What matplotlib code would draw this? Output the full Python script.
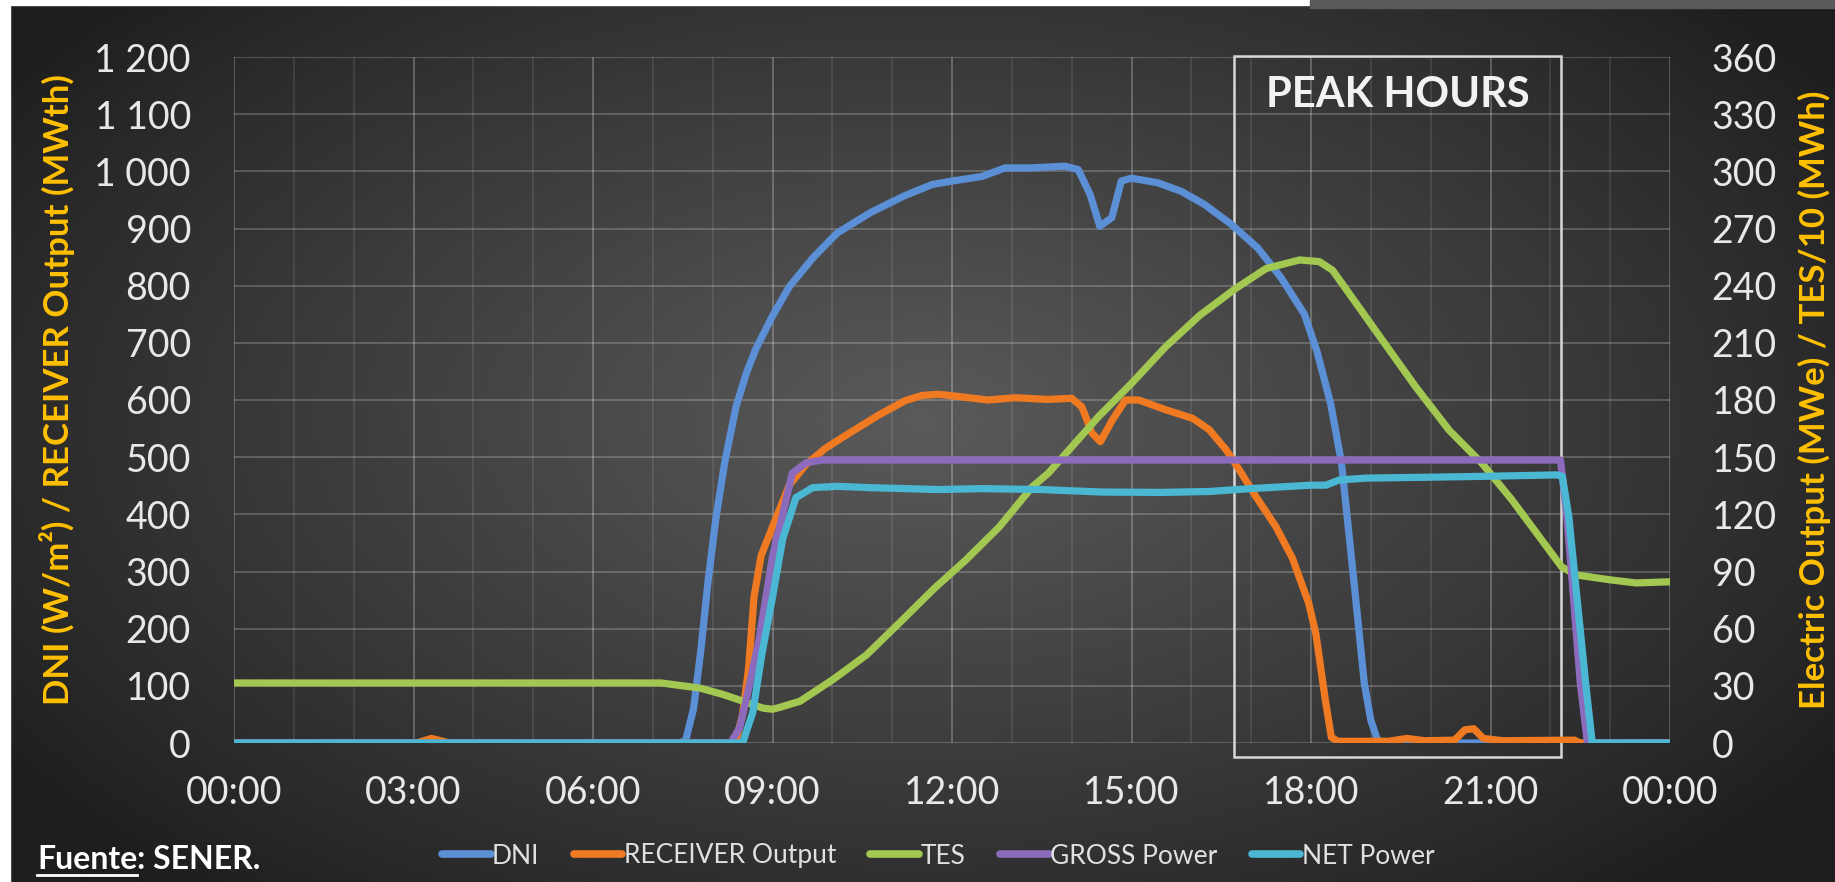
import numpy as np
import matplotlib
matplotlib.use("Agg")
import matplotlib.pyplot as plt
from matplotlib.lines import Line2D
from matplotlib.patches import Rectangle

# ---------------- data (hours of day, values) ----------------
dni_t = [0.0, 7.45, 7.55, 7.68, 7.8, 7.92, 8.05, 8.2, 8.39, 8.56, 8.72, 9.0, 9.28, 9.67,
         10.08, 10.64, 11.2, 11.67, 12.0, 12.5, 12.89, 13.33, 13.89, 14.11, 14.31, 14.47,
         14.67, 14.83, 15.0, 15.44, 15.83, 16.22, 16.67, 17.11, 17.5, 17.89, 18.1, 18.33,
         18.51, 18.72, 18.89, 19.0, 19.11, 19.25, 24.0]
dni_v = [0, 0, 5, 60, 160, 280, 390, 490, 588, 646, 689, 747, 798, 848,
         892, 928, 957, 977, 983, 991, 1006, 1006, 1009, 1003, 959, 904,
         919, 983, 988, 980, 965, 942, 907, 866, 814, 750, 685, 593,
         490, 280, 105, 40, 5, 0, 0]

rec_t = [0.0, 3.05, 3.3, 3.6, 8.38, 8.5, 8.6, 8.69, 8.81, 9.0, 9.28, 9.56, 9.89, 10.33,
         10.78, 11.22, 11.5, 11.78, 12.2, 12.6, 13.06, 13.6, 14.0, 14.17, 14.34, 14.48,
         14.68, 14.9, 15.12, 15.57, 16.02, 16.3, 16.58, 16.8, 17.08, 17.41, 17.69, 17.96,
         18.08, 18.24, 18.34, 18.45, 19.3, 19.6, 19.9, 20.4, 20.57, 20.72, 20.88, 21.2,
         22.4, 22.5, 24.0]
rec_v = [0, 0, 8, 0, 0, 50, 130, 255, 328, 378, 451, 487, 516, 545,
         574, 599, 608, 610, 605, 600, 604, 601, 603, 588, 542, 527,
         565, 600, 600, 583, 568, 548, 513, 478, 431, 379, 323, 245,
         192, 75, 10, 3, 3, 8, 4, 5, 23, 25, 8, 4,
         5, 0, 0]

tes_t = [0.0, 6.5, 7.14, 7.5, 7.79, 8.17, 8.51, 8.84, 9.0, 9.11, 9.46, 10.01, 10.57, 11.12,
         11.7, 12.23, 12.79, 13.34, 13.61, 14.45, 15.0, 15.57, 16.14, 16.74, 17.25, 17.81,
         18.14, 18.36, 18.64, 19.19, 19.75, 20.31, 20.86, 21.36, 22.19, 22.43, 23.03, 23.43, 24.0]
tes_v = [31.5, 31.5, 31.5, 30.0, 28.8, 25.5, 21.9, 18.3, 17.7, 18.6, 21.9, 33.3, 46.2, 63.0,
         81.0, 96.0, 113.4, 134.4, 141.6, 171.3, 188.7, 207.9, 224.4, 238.5, 249.0, 253.5,
         252.6, 248.1, 235.8, 211.5, 186.9, 164.1, 146.7, 127.5, 92.4, 88.2, 85.5, 84.0, 84.6]

gross_t = [0.0, 8.3, 8.45, 8.56, 8.78, 9.0, 9.17, 9.33, 9.56, 9.83, 22.17, 22.28, 22.5, 22.62, 24.0]
gross_v = [0, 0, 8, 22.5, 55, 98, 120, 141.6, 147, 148.5, 148.5, 118, 31.5, 0, 0]

net_t = [0.0, 8.5, 8.67, 8.83, 9.0, 9.17, 9.39, 9.67, 10.08, 10.64, 11.78, 12.5, 13.5, 14.5,
         15.5, 16.3, 17.0, 18.0, 18.25, 18.47, 18.92, 20.0, 21.0, 22.1, 22.2, 22.31, 22.42,
         22.59, 22.7, 24.0]
net_v = [0, 0, 16, 48, 76.5, 107, 128.7, 134, 134.7, 134, 133, 133.5, 133, 131.7,
         131.5, 132, 133.5, 135.3, 135.3, 138, 139, 139.5, 140, 140.7, 140, 118.5, 84,
         31.5, 0, 0]

series_names = ["DNI", "RECEIVER Output", "TES", "GROSS Power", "NET Power"]
series_colors = ["#5b8fd6", "#f07a22", "#a2c852", "#8c6bbd", "#4ab7d3"]

x_ticks = [0, 3, 6, 9, 12, 15, 18, 21, 24]
x_labels = ["00:00", "03:00", "06:00", "09:00", "12:00", "15:00", "18:00", "21:00", "00:00"]
left_ticks = list(range(0, 1201, 100))
left_labels = ["0", "100", "200", "300", "400", "500", "600", "700", "800", "900",
               "1 000", "1 100", "1 200"]
right_ticks = list(range(0, 361, 30))

peak_start, peak_end = 16.72, 22.18

# ---------------- figure ----------------
W, H, DPI = 1835, 882, 100
plt.rcParams['font.family'] = ['Lato', 'DejaVu Sans']
fig = plt.figure(figsize=(W / DPI, H / DPI), dpi=DPI)

# background gradient
bg = fig.add_axes([0, 0, 1, 1], zorder=-5)
yy, xx = np.mgrid[0:H, 0:W]
d = np.sqrt(((xx - 920) / 1100.0) ** 2 + ((yy - 420) / 620.0) ** 2)
g = 30 + 60 * np.clip(1 - d, 0, 1) ** 0.9
img = np.dstack([g, g, g]) / 255.0
bg.imshow(img, extent=(0, W, H, 0), aspect='auto', interpolation='bilinear')
bg.set_xlim(0, W)
bg.set_ylim(H, 0)
bg.axis('off')
bg.add_patch(Rectangle((0, 0), 1310, 5, color='white'))
bg.add_patch(Rectangle((1310, 0), W - 1310, 8, color='#5a5a5a'))
bg.add_patch(Rectangle((0, 0), 10, H, color='white'))

L, R, B, T = 234, 1670, 743, 57
ax = fig.add_axes([L / W, 1 - B / H, (R - L) / W, (B - T) / H])
ax.patch.set_alpha(0)
ax.set_xlim(0, 24)
ax.set_ylim(0, 1200)
for s in ax.spines.values():
    s.set_visible(False)

# grid
for yv in left_ticks:
    ax.axhline(yv, color='white', alpha=0.24, lw=1.2, zorder=0.5)
for h in range(0, 25):
    a = 0.28 if h % 3 == 0 else 0.11
    ax.axvline(h, color='white', alpha=a, lw=1.2, zorder=0.5)

ax.set_xticks(x_ticks)
ax.set_xticklabels(x_labels)
ax.set_yticks(left_ticks)
ax.set_yticklabels(left_labels)
ax.tick_params(axis='both', length=0, labelsize=27, labelcolor='#e8e8e8')
ax.tick_params(axis='y', pad=31)
ax.tick_params(axis='x', pad=23)

lw = 5.2
ax.plot(dni_t, dni_v, color=series_colors[0], lw=lw, solid_capstyle='round',
        solid_joinstyle='round', zorder=2)
ax.plot(rec_t, rec_v, color=series_colors[1], lw=lw, solid_capstyle='round',
        solid_joinstyle='round', zorder=2)

# peak hours box
ax.add_patch(Rectangle((peak_start, -25), peak_end - peak_start, 1227, fill=False,
                       ec='#d8d8d8', lw=1.8, zorder=1.5, clip_on=False))
ax.text((peak_start + peak_end) / 2, 1112, "PEAK HOURS", ha='center', va='baseline',
        fontsize=30, fontweight='bold', color='#f2f2f2', zorder=5)

ax2 = ax.twinx()
ax2.set_ylim(0, 360)
for s in ax2.spines.values():
    s.set_visible(False)
ax2.set_yticks(right_ticks)
ax2.tick_params(axis='y', length=0, labelsize=27, labelcolor='#e8e8e8', pad=30)
ax2.plot(tes_t, tes_v, color=series_colors[2], lw=lw, solid_capstyle='round',
         solid_joinstyle='round', zorder=2)
ax2.plot(gross_t, gross_v, color=series_colors[3], lw=lw, solid_capstyle='round',
         solid_joinstyle='round', zorder=2)
ax2.plot(net_t, net_v, color=series_colors[4], lw=lw, solid_capstyle='round',
         solid_joinstyle='round', zorder=2)

# axis titles
fig.text(57 / W, 1 - 390 / H, "DNI (W/m²) / RECEIVER Output (MWth)", rotation=90,
         ha='center', va='center', fontsize=25, fontweight='bold', color='#ffc000')
fig.text(1814 / W, 1 - 400 / H, "Electric Output (MWe) / TES/10 (MWh)", rotation=90,
         ha='center', va='center', fontsize=25, fontweight='bold', color='#ffc000')

# legend
handles = [Line2D([0], [0], color=c, lw=5.5, solid_capstyle='round') for c in series_colors]
fig.legend(handles, series_names, loc='center', bbox_to_anchor=(938 / W, 1 - 856 / H),
           ncol=5, frameon=False, fontsize=19, labelcolor='#e0e0e0', handlelength=1.85,
           handletextpad=0.05, columnspacing=1.3)

# source
t1 = fig.text(37 / W, 1 - 869 / H, "Fuente", ha='left', va='baseline', fontsize=23,
              fontweight='bold', color='white')
fig.canvas.draw()
bb = t1.get_window_extent()
fig.text(bb.x1 / W, 1 - 869 / H, ": SENER.", ha='left', va='baseline', fontsize=23,
         fontweight='bold', color='white')
uy = (H - 875) / H
fig.add_artist(Line2D([bb.x0 / W, bb.x1 / W], [uy, uy], color='white', lw=2,
                      transform=fig.transFigure))

fig.savefig("out.png", dpi=DPI)
